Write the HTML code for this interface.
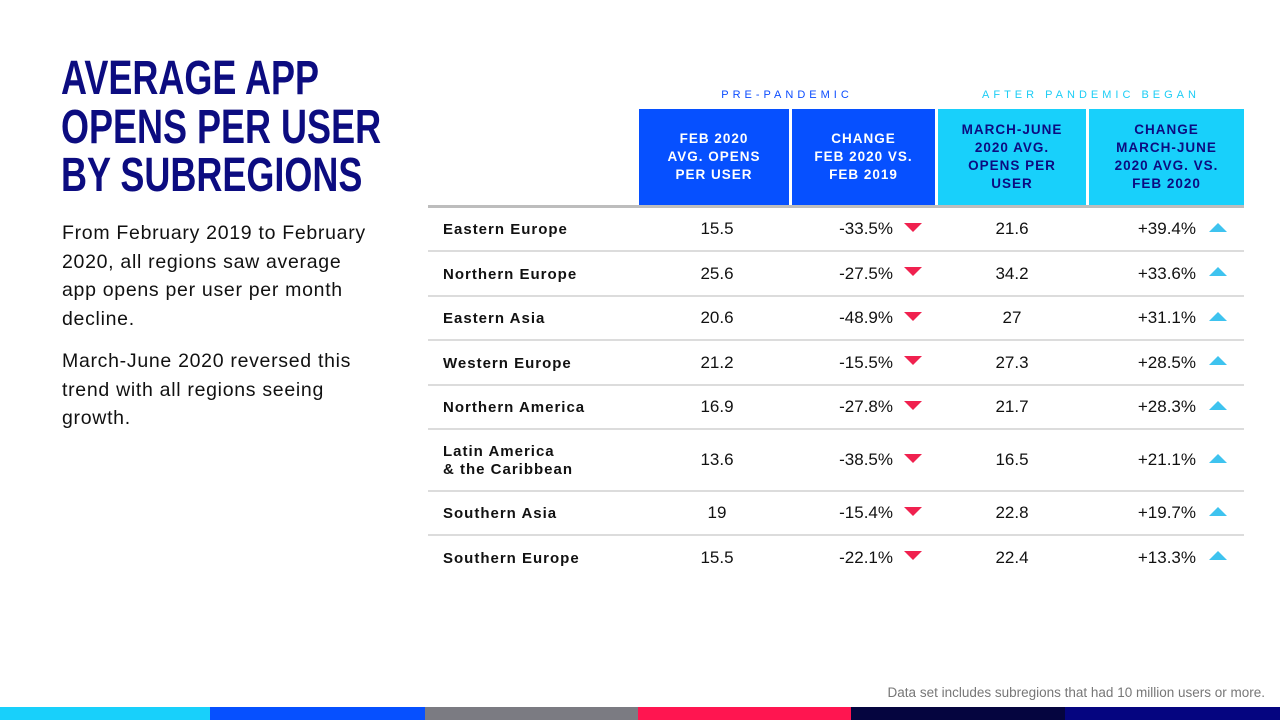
<!DOCTYPE html>
<html><head><meta charset="utf-8">
<style>
body{margin:0;width:1280px;height:720px;background:#fff;position:relative;overflow:hidden;font-family:"Liberation Sans",sans-serif}
.abs{position:absolute}
#title{left:61px;top:55px;font-family:"Liberation Sans",sans-serif;font-weight:bold;font-size:48px;line-height:48.5px;color:#0c0c80;transform:scaleX(0.75);transform-origin:0 0;white-space:nowrap}
.para{left:62px;font-size:19.5px;line-height:28.5px;color:#111;letter-spacing:0.7px;white-space:nowrap}
.grp{font-size:11px;letter-spacing:4px;top:89px;text-align:center}
.hd{top:109px;height:96px;display:flex;align-items:center;justify-content:center;text-align:center;font-size:13.5px;font-weight:bold;letter-spacing:1px;line-height:18px}
.row{left:428px;width:816px;position:absolute;border-bottom:2.5px solid #dcdcdc}
.row.last{border-bottom-color:transparent}
.row div{position:absolute;top:0;bottom:0;display:flex;align-items:center;font-size:17px;color:#111}
.lab{left:15px;font-weight:bold;font-size:15px!important;letter-spacing:1px;line-height:18px}
.tri{width:0;height:0}
</style></head><body>
<div id="title" class="abs">AVERAGE APP<br>OPENS PER USER<br>BY SUBREGIONS</div>
<div class="abs para" style="top:219px">From February 2019 to February<br>2020, all regions saw average<br>app opens per user per month<br>decline.</div>
<div class="abs para" style="top:347px">March-June 2020 reversed this<br>trend with all regions seeing<br>growth.</div>

<div class="abs grp" style="left:639px;width:296px;color:#0a4bff">PRE-PANDEMIC</div>
<div class="abs grp" style="left:938px;width:306px;color:#1ccdf5">AFTER PANDEMIC BEGAN</div>

<div class="abs hd" style="left:639px;width:150px;background:#0650ff;color:#fff">FEB 2020<br>AVG. OPENS<br>PER USER</div>
<div class="abs hd" style="left:792px;width:143px;background:#0650ff;color:#fff">CHANGE<br>FEB 2020 VS.<br>FEB 2019</div>
<div class="abs hd" style="left:938px;width:148px;background:#18d0fb;color:#0c0c80">MARCH-JUNE<br>2020 AVG.<br>OPENS PER<br>USER</div>
<div class="abs hd" style="left:1089px;width:155px;background:#18d0fb;color:#0c0c80">CHANGE<br>MARCH-JUNE<br>2020 AVG. VS.<br>FEB 2020</div>
<div class="abs" style="left:428px;top:205px;width:816px;height:3px;background:#bdbdbd"></div>

<div id="table"></div>

<div class="abs" style="right:15px;top:685px;font-size:13.5px;color:#777">Data set includes subregions that had 10 million users or more.</div>
<div class="abs" style="top:707px;left:0;width:1280px;height:13px;display:flex">
<div style="width:210px;background:#18d0fb"></div><div style="width:215px;background:#0650ff"></div><div style="width:213px;background:#7b7b82"></div><div style="width:213px;background:#ff1550"></div><div style="width:214px;background:#05053f"></div><div style="width:215px;background:#050580"></div>
</div>
<script>
const regions=["Eastern Europe","Northern Europe","Eastern Asia","Western Europe","Northern America","Latin America<br>& the Caribbean","Southern Asia","Southern Europe"];
const feb2020=["15.5","25.6","20.6","21.2","16.9","13.6","19","15.5"];
const changeFeb=["-33.5%","-27.5%","-48.9%","-15.5%","-27.8%","-38.5%","-15.4%","-22.1%"];
const marJun=["21.6","34.2","27","27.3","21.7","16.5","22.8","22.4"];
const changeMar=["+39.4%","+33.6%","+31.1%","+28.5%","+28.3%","+21.1%","+19.7%","+13.3%"];
const rowH=[42,42,42,42,42,59,42,42];
const t=document.getElementById('table');
let y=208;
regions.forEach((r,i)=>{
  const row=document.createElement('div');
  row.className='row'+(i===regions.length-1?' last':'');
  
  
  row.style.top=y+'px';row.style.height=rowH[i]+'px';
  row.innerHTML=
   `<div class="lab" style="padding-top:2px">${r}</div>`+
   `<div style="left:211px;width:156px;justify-content:center">${feb2020[i]}</div>`+
   `<div style="left:364px;width:101px;justify-content:flex-end">${changeFeb[i]}</div>`+
   `<div style="left:476px;width:0"><span class="tri" style="border-left:9px solid transparent;border-right:9px solid transparent;border-top:9px solid #f0214f;transform:translateY(-2px)"></span></div>`+
   `<div style="left:510px;width:148px;justify-content:center">${marJun[i]}</div>`+
   `<div style="left:668px;width:100px;justify-content:flex-end">${changeMar[i]}</div>`+
   `<div style="left:781px;width:0"><span class="tri" style="border-left:9px solid transparent;border-right:9px solid transparent;border-bottom:9px solid #3ec3ef;transform:translateY(-2px)"></span></div>`;
  t.appendChild(row);
  y+=rowH[i]+2.5;
});
</script>
</body></html>
